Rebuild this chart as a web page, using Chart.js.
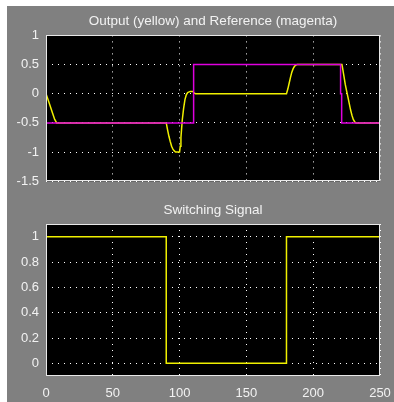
<!DOCTYPE html>
<html>
<head>
<meta charset="utf-8">
<script src="https://cdn.jsdelivr.net/npm/chart.js@4"></script>
<style>
  html, body { margin: 0; padding: 0; background: #ffffff; }
  #scope { position: absolute; left: 7px; top: 6px; width: 387px; height: 396px; background: #808080; }
  canvas { display: block; }
</style>
</head>
<body>
<div id="scope">
  <canvas id="topChart" width="387" height="190"></canvas>
  <canvas id="bottomChart" width="387" height="206"></canvas>
</div>
<script>
// time axis ticks
const xTicks = [0, 50, 100, 150, 200, 250];
const topYTicks = [1, 0.5, 0, -0.5, -1, -1.5];
const bottomYTicks = [0, 0.2, 0.4, 0.6, 0.8, 1];

// output (yellow)
const outT = [0, 1.5, 3, 5, 6.5, 8, 90, 91, 92, 93, 94, 95, 96, 97, 100, 100.5, 101, 101.5, 102, 103, 104, 105, 106, 108, 110, 111, 112, 180, 181, 182, 183, 184, 185, 186, 187, 188, 221.5, 222, 223, 224, 225, 226, 227, 228, 229, 230, 231, 232, 250];
const outY = [0, -0.1, -0.2, -0.34, -0.44, -0.5, -0.5, -0.62, -0.73, -0.82, -0.9, -0.95, -0.98, -1, -1, -0.9, -0.75, -0.6, -0.45, -0.25, -0.1, -0.02, 0.02, 0.04, 0.04, 0.01, 0, 0, 0.08, 0.18, 0.28, 0.37, 0.43, 0.47, 0.49, 0.5, 0.5, 0.44, 0.3, 0.16, 0.05, -0.06, -0.17, -0.28, -0.37, -0.44, -0.48, -0.5, -0.5];

// reference (magenta)
const refT = [0, 110.5, 110.5, 220.5, 220.5, 221.3, 221.3, 250];
const refY = [-0.5, -0.5, 0.5, 0.5, 0, 0, -0.5, -0.5];

// switching signal
const swT = [0, 90, 90, 180, 180, 250];
const swY = [1, 1, 0, 0, 1, 1];

const textColor = '#f2f2f2';
const fontFamily = "'Liberation Sans', Arial, sans-serif";

function pts(t, y) {
    return t.map((v, i) => ({ x: v, y: y[i] }));
}

// black plot area and white frame
const scopeBox = {
    id: 'scopeBox',
    beforeDraw(chart) {
        const a = chart.chartArea;
        const c = chart.ctx;
        c.save();
        c.fillStyle = '#000000';
        c.fillRect(a.left, a.top, a.right - a.left, a.bottom - a.top);
        c.restore();
    },
    afterDraw(chart) {
        const a = chart.chartArea;
        const c = chart.ctx;
        c.save();
        c.strokeStyle = '#e8e8e8';
        c.lineWidth = 1;
        c.strokeRect(Math.round(a.left) + 0.5, Math.round(a.top) + 0.5,
            Math.round(a.right - a.left) - 1, Math.round(a.bottom - a.top) - 1);
        c.restore();
    }
};

function makeChart(id, titleText, datasets, yMin, yMax, yTicks, showX, padBottom) {
    return new Chart(document.getElementById(id), {
        type: 'scatter',
        data: { datasets: datasets },
        options: {
            responsive: false,
            animation: false,
            layout: { padding: { left: 0, right: 14, top: 0, bottom: padBottom } },
            plugins: {
                legend: { display: false },
                tooltip: { enabled: false },
                title: {
                    display: true,
                    fullSize: false,
                    text: titleText,
                    color: textColor,
                    font: { family: fontFamily, size: 13.5, weight: 'normal' },
                    padding: showX ? { top: 6, bottom: 5.8 } : { top: 7.6, bottom: 5.6 }
                }
            },
            scales: {
                x: {
                    type: 'linear',
                    min: 0,
                    max: 250,
                    afterBuildTicks: s => { s.ticks = xTicks.map(v => ({ value: v })); },
                    afterFit: s => {
                        s.height = showX ? 26 : 0;
                        s.paddingLeft = 0;
                        s.paddingRight = 0;
                    },
                    grid: { color: '#ffffff', drawTicks: false },
                    border: { display: false, dash: [1, 5] },
                    ticks: {
                        display: showX,
                        color: textColor,
                        padding: 10,
                        maxRotation: 0,
                        font: { family: fontFamily, size: 13 },
                        callback: v => String(v)
                    }
                },
                y: {
                    type: 'linear',
                    min: yMin,
                    max: yMax,
                    afterBuildTicks: s => { s.ticks = yTicks.map(v => ({ value: v })); },
                    afterFit: s => { s.width = 39; },
                    grid: { color: '#ffffff', drawTicks: false },
                    border: { display: false, dash: [1, 5] },
                    ticks: {
                        color: textColor,
                        padding: 7,
                        font: { family: fontFamily, size: 13 },
                        callback: v => String(v)
                    }
                }
            }
        },
        plugins: [scopeBox]
    });
}

Chart.defaults.scale.grid.borderDash = [1, 5];

const topChart = makeChart('topChart', 'Output (yellow) and Reference (magenta)', [
    {
        label: 'Reference',
        data: pts(refT, refY),
        showLine: true,
        borderColor: '#e000e0',
        borderWidth: 1.5,
        pointRadius: 0,
        order: 0
    },
    {
        label: 'Output',
        data: pts(outT, outY),
        showLine: true,
        borderColor: '#f0f000',
        borderWidth: 1.5,
        pointRadius: 0,
        order: 1
    }
], -1.5, 1, topYTicks, false, 8);

const bottomChart = makeChart('bottomChart', 'Switching Signal', [
    {
        label: 'Switching Signal',
        data: pts(swT, swY),
        showLine: true,
        borderColor: '#f0f000',
        borderWidth: 1.5,
        pointRadius: 0
    }
], -0.1, 1.1, bottomYTicks, true, 0);
</script>
</body>
</html>
